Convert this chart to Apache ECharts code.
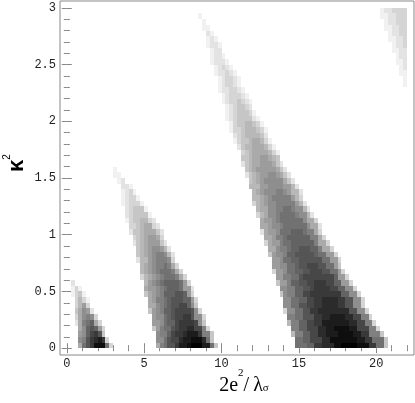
<!DOCTYPE html>
<html>
<head>
<meta charset="utf-8">
<script src="https://cdn.jsdelivr.net/npm/echarts@6/dist/echarts.min.js"></script>
<style>
  html, body { margin: 0; padding: 0; background: #fff; }
  #main { width: 415px; height: 403px; }
</style>
</head>
<body>
<div id="main"></div>
<script>
// density grid: cells are 0.25 wide (x) and 0.05 tall (y), x from 0 to 22, y from 0 to 3
const colStep = 0.25
const rowStep = 0.05
// one entry per row, top row (y 2.95-3.0) first; each segment = [first column, darkness levels]
// levels are base-19 digits: 0 white ... i (18) black
const densityRows = [
  [[81, '1223333']],
  [[34, '1'], [81, '1122333']],
  [[35, '1'], [82, '122333']],
  [[35, '11'], [82, '112233']],
  [[36, '21'], [83, '12233']],
  [[36, '121'], [83, '11223']],
  [[36, '1221'], [84, '1223']],
  [[37, '122'], [84, '1122']],
  [[37, '1221'], [85, '122']],
  [[37, '12221'], [85, '112']],
  [[38, '12321'], [86, '12']],
  [[38, '122321'], [86, '11']],
  [[39, '123321'], [87, '1']],
  [[39, '123321'], [87, '1']],
  [[39, '1223321']],
  [[40, '1233321']],
  [[40, '12334321']],
  [[41, '1234432']],
  [[41, '12344431']],
  [[41, '123444421']],
  [[42, '134455431']],
  [[42, '1334555431']],
  [[43, '234555542']],
  [[43, '1344566531']],
  [[44, '2455666531']],
  [[45, '3456666531']],
  [[45, '4456677654']],
  [[45, '24566777642']],
  [[12, '1'], [46, '45677777642']],
  [[12, '11'], [46, '245677887642']],
  [[13, '12'], [47, '456788888642']],
  [[14, '221'], [47, '5557788887752']],
  [[14, '1231'], [48, '5678889987552']],
  [[14, '12331'], [48, '5567899999753']],
  [[14, '123331'], [48, '35678899999752']],
  [[15, '234441'], [49, '5668899aa98852']],
  [[15, '2344441'], [49, '356889aaaa98852']],
  [[15, '13445532'], [50, '67789aaaaaa8663']],
  [[16, '33456632'], [50, '667889aaaaaa8662']],
  [[16, '244566642'], [50, '26778aaabbba9963']],
  [[17, '34567763'], [51, '66799abbbbbb9963']],
  [[17, '245677742'], [51, '36779aabbbbbb9663']],
  [[18, '456788752'], [52, '66899abbcccbb9663']],
  [[18, '4567899852'], [52, '47889bbcccccbaa773']],
  [[18, '2557899983'], [53, '778aabbccccccaa773']],
  [[19, '567899a963'], [53, '7788aabccdddccaa74']],
  [[19, '56789aaa963'], [53, '3778aabbccdddccaa73']],
  [[19, '356789aaa963'], [54, '7799aacddddddddb773']],
  [[1, '2'], [20, '5789abbbba73'], [54, '4779bbccddeeeddbb773']],
  [[1, '131'], [20, '67789abbba772'], [55, '8899bbccdeeeeddbb883']],
  [[1, '1341'], [20, '46789bbbccb73'], [55, '4899bbddeeeeeeeebb883']],
  [[2, '3531'], [21, '6799abcccbb73'], [56, '88aabbddeeffffeecc883']],
  [[2, '3573'], [21, '6689abccddb84'], [56, '88aaccddeeffffeecc883']],
  [[2, '46872'], [21, '4789bbcddddc83'], [56, '388aacceeffffffffcc883']],
  [[2, '368983'], [22, '788abcddeec883'], [57, '99aaccceeffggggffdd993']],
  [[2, '269ab63'], [22, '778abbdeeeed84'], [57, '599bbddeegggggggffdd993']],
  [[3, '68bcb73'], [22, '479aacdeeffdd93'], [58, '99bbdddffgghhhhggddd993']],
  [[3, '78bdec4'], [23, '899bdeefggge994'], [58, '599bbddffggghhhhggee9994']],
  [[3, '89cefge3'], [23, '88acddfgghhhfa4'], [59, 'aabbdddffhhhhhhhggeeaaa4']],
  [[3, '6acehhha3'], [23, '69accegghiiigga4'], [59, 'aaabbeefffhhiiiihhheeaa4']],
]

const xMajor = [0, 5, 10, 15, 20]
const xMinor = [1, 2, 3, 4, 6, 7, 8, 9, 11, 12, 13, 14, 16, 17, 18, 19, 21, 22]
const yMajor = [0, 0.5, 1, 1.5, 2, 2.5, 3]
const yMinor = [0.1, 0.2, 0.3, 0.4, 0.6, 0.7, 0.8, 0.9, 1.1, 1.2, 1.3, 1.4,
  1.6, 1.7, 1.8, 1.9, 2.1, 2.2, 2.3, 2.4, 2.6, 2.7, 2.8, 2.9]

let cells = []
densityRows.forEach((segs, r) => {
  let row = densityRows.length - 1 - r
  segs.forEach(([start, s]) => {
    for (let k = 0; k < s.length; k++) {
      let level = parseInt(s[k], 19)
      if (level > 0) cells.push([(start + k) * colStep, row * rowStep, level])
    }
  })
})

const tickColor = '#888'
function makeAxis(dim, position, ticks, len, labels) {
  let isX = dim === 'x'
  return {
    type: 'value',
    position: position,
    min: isX ? -0.44 : -0.06,
    max: isX ? 22.44 : 3.06,
    axisLine: { show: false },
    splitLine: { show: false },
    axisTick: {
      show: true,
      inside: true,
      length: len,
      customValues: ticks,
      lineStyle: { color: tickColor, width: 1 },
    },
    axisLabel: labels
      ? {
          show: true,
          customValues: ticks,
          margin: isX ? 3 : 4,
          color: '#222',
          fontFamily: 'Liberation Mono',
          fontSize: 12,
        }
      : { show: false },
  }
}

var myChart = echarts.init(document.getElementById('main'))
var option = {
  animation: false,
  grid: {
    left: 60,
    top: 1,
    width: 354,
    height: 354,
    show: true,
    borderColor: '#888',
    borderWidth: 1,
    backgroundColor: '#fff',
  },
  xAxis: [
    makeAxis('x', 'bottom', xMajor, 5, true),
    makeAxis('x', 'bottom', xMinor, 3, false),
    makeAxis('x', 'top', xMajor, 5, false),
    makeAxis('x', 'top', xMinor, 3, false),
  ],
  yAxis: [
    makeAxis('y', 'left', yMajor, 5, true),
    makeAxis('y', 'left', yMinor, 3, false),
    makeAxis('y', 'right', yMajor, 5, false),
    makeAxis('y', 'right', yMinor, 3, false),
  ],
  visualMap: {
    show: false,
    type: 'continuous',
    dimension: 2,
    min: 0,
    max: 18,
    inRange: { color: ['#ffffff', '#000000'] },
  },
  series: [
    {
      type: 'custom',
      xAxisIndex: 0,
      yAxisIndex: 0,
      clip: true,
      encode: { x: 0, y: 1 },
      data: cells,
      renderItem(params, api) {
        let x0 = api.value(0)
        let y0 = api.value(1)
        let a = api.coord([x0, y0 + rowStep])
        let b = api.coord([x0 + colStep, y0])
        let left = Math.round(a[0])
        let top = Math.round(a[1])
        return {
          type: 'rect',
          shape: { x: left, y: top, width: Math.round(b[0]) - left, height: Math.round(b[1]) - top },
          style: { fill: api.visual('color') },
        }
      },
    },
  ],
  graphic: [
    {
      type: 'text',
      x: 244,
      y: 386,
      style: {
        text: '2e{sup|2}/\u2009λ{sub|σ}',
        fontFamily: 'Liberation Serif',
        fontSize: 20,
        lineHeight: 37,
        fill: '#000',
        align: 'center',
        verticalAlign: 'middle',
        rich: {
          sup: { fontFamily: 'Liberation Serif', fontSize: 11, lineHeight: 11, verticalAlign: 'top', fill: '#000' },
          sub: { fontFamily: 'Liberation Serif', fontSize: 11, padding: [5, 0, 0, 0], fill: '#000' },
        },
      },
    },
    {
      type: 'text',
      x: 17,
      y: 163,
      rotation: Math.PI / 2,
      style: {
        text: '{k|κ}{s|2}',
        fontFamily: 'Liberation Sans',
        fontSize: 22,
        lineHeight: 29,
        fill: '#000',
        align: 'center',
        verticalAlign: 'middle',
        rich: {
          k: { fontFamily: 'Liberation Sans', fontWeight: 'bold', fontSize: 22, lineHeight: 29, fill: '#000' },
          s: { fontFamily: 'Liberation Sans', fontSize: 10, lineHeight: 10, verticalAlign: 'top', fill: '#000' },
        },
      },
    },
  ],
}
myChart.setOption(option)
</script>
</body>
</html>
